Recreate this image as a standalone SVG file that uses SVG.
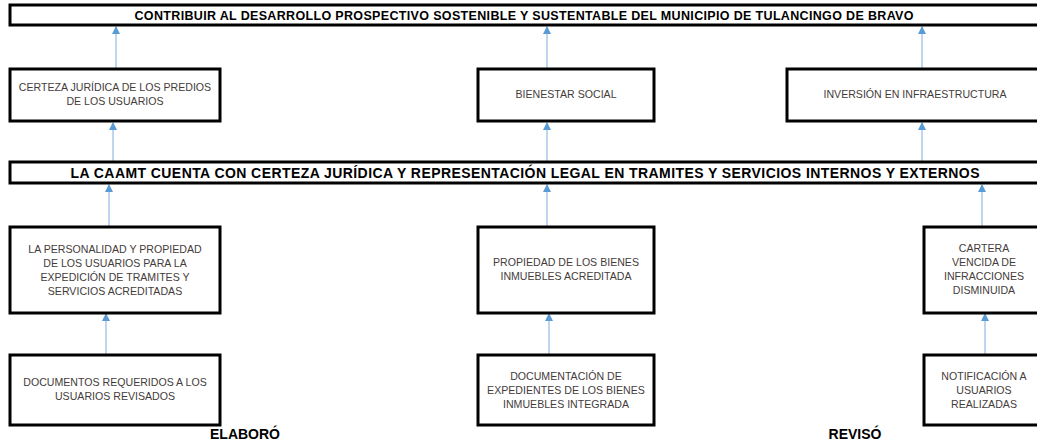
<svg xmlns="http://www.w3.org/2000/svg" width="1037" height="446" viewBox="0 0 1037 446">
<style>
.box{fill:#fff;stroke:#000;stroke-width:3}
.t{font-family:"Liberation Sans",Arial,sans-serif;font-size:10.6px;fill:#443c3a;text-anchor:middle}
.h{font-family:"Liberation Sans",Arial,sans-serif;font-weight:bold;fill:#000;text-anchor:middle}
.c{stroke:#9cc2e5;stroke-width:1.3;fill:none;marker-end:url(#ah)}
</style>
<defs>
<marker id="ah" markerWidth="8" markerHeight="8" refX="7" refY="4" orient="auto" markerUnits="userSpaceOnUse">
<path d="M0,0 L8,4 L0,8 z" fill="#5b9bd5"/>
</marker>
</defs>
<rect width="1037" height="446" fill="#fff"/>
<g id="connectors">
<line class="c" x1="116" y1="68" x2="116" y2="27"/>
<line class="c" x1="547" y1="68" x2="547" y2="27"/>
<line class="c" x1="922" y1="68" x2="922" y2="27"/>
<line class="c" x1="113" y1="161" x2="113" y2="123"/>
<line class="c" x1="547" y1="161" x2="547" y2="123"/>
<line class="c" x1="922" y1="161" x2="922" y2="123"/>
<line class="c" x1="109" y1="226" x2="109" y2="185"/>
<line class="c" x1="547" y1="226" x2="547" y2="185"/>
<line class="c" x1="982" y1="226" x2="982" y2="185"/>
<line class="c" x1="106" y1="354" x2="106" y2="314"/>
<line class="c" x1="549" y1="354" x2="549" y2="314"/>
<line class="c" x1="985" y1="354" x2="985" y2="314"/>
</g>
<g id="fin">
<rect class="box" x="10" y="5" width="1040" height="20"/>
<text class="h" x="524" y="20" font-size="12.5" textLength="779">CONTRIBUIR AL DESARROLLO PROSPECTIVO SOSTENIBLE Y SUSTENTABLE DEL MUNICIPIO DE TULANCINGO DE BRAVO</text>
</g>
<g id="n_certeza">
<rect class="box" x="10" y="69" width="210" height="52"/>
<text class="t" x="115" y="91">CERTEZA JURÍDICA DE LOS PREDIOS</text>
<text class="t" x="115" y="105">DE LOS USUARIOS</text>
</g>
<g id="n_bienestar">
<rect class="box" x="478" y="69" width="176" height="52"/>
<text class="t" x="566" y="98">BIENESTAR SOCIAL</text>
</g>
<g id="n_inversion">
<rect class="box" x="787" y="69" width="256" height="52"/>
<text class="t" x="915" y="98">INVERSIÓN EN INFRAESTRUCTURA</text>
</g>
<g id="proposito">
<rect class="box" x="10" y="162" width="1040" height="21"/>
<text class="h" x="525" y="177.5" font-size="14" textLength="909">LA CAAMT CUENTA CON CERTEZA JURÍDICA Y REPRESENTACIÓN LEGAL EN TRAMITES Y SERVICIOS INTERNOS Y EXTERNOS</text>
</g>
<g id="c_personalidad">
<rect class="box" x="10" y="227" width="210" height="86"/>
<text class="t" x="115" y="253">LA PERSONALIDAD Y PROPIEDAD</text>
<text class="t" x="115" y="267">DE LOS USUARIOS PARA LA</text>
<text class="t" x="115" y="281">EXPEDICIÓN DE TRAMITES Y</text>
<text class="t" x="115" y="295">SERVICIOS ACREDITADAS</text>
</g>
<g id="c_propiedad">
<rect class="box" x="478" y="227" width="176" height="86"/>
<text class="t" x="566" y="266">PROPIEDAD DE LOS BIENES</text>
<text class="t" x="566" y="280">INMUEBLES ACREDITADA</text>
</g>
<g id="c_cartera">
<rect class="box" x="924" y="227" width="120" height="86"/>
<text class="t" x="984" y="252">CARTERA</text>
<text class="t" x="984" y="266">VENCIDA DE</text>
<text class="t" x="984" y="280">INFRACCIONES</text>
<text class="t" x="984" y="294">DISMINUIDA</text>
</g>
<g id="a_documentos">
<rect class="box" x="10" y="355" width="210" height="70"/>
<text class="t" x="115" y="386">DOCUMENTOS REQUERIDOS A LOS</text>
<text class="t" x="115" y="400">USUARIOS REVISADOS</text>
</g>
<g id="a_documentacion">
<rect class="box" x="478" y="355" width="176" height="70"/>
<text class="t" x="566" y="380">DOCUMENTACIÓN DE</text>
<text class="t" x="566" y="394">EXPEDIENTES DE LOS BIENES</text>
<text class="t" x="566" y="408">INMUEBLES INTEGRADA</text>
</g>
<g id="a_notificacion">
<rect class="box" x="924" y="355" width="120" height="70"/>
<text class="t" x="984" y="380">NOTIFICACIÓN A</text>
<text class="t" x="984" y="394">USUARIOS</text>
<text class="t" x="984" y="408">REALIZADAS</text>
</g>
<g id="firmas">
<text class="h" x="245" y="439" font-size="14">ELABORÓ</text>
<text class="h" x="855" y="439" font-size="14">REVISÓ</text>
</g>
</svg>
